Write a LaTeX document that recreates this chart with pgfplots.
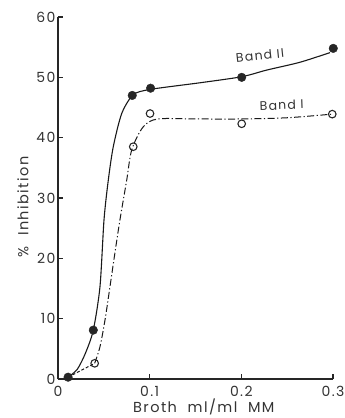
\documentclass[border=0pt]{standalone}
\usepackage{fontspec}
\setmainfont{Poppins}[LetterSpace=10]
\usepackage{pgfplots}
\pgfplotsset{compat=1.18}
\begin{document}
\begin{tikzpicture}
\begin{axis}[
  at={(0,0)}, anchor=south west,
  scale only axis, width=275pt, height=362pt,
  xmin=0, xmax=0.3, ymin=0, ymax=60,
  axis lines*=left,
  axis line style={line width=1.2pt, black!85},
  tick align=inside,
  major tick length=5pt,
  tick style={line width=1.2pt, black!85},
  xtick={0,0.1,0.2,0.3},
  xticklabels={0,0.1,0.2,0.3},
  ytick={0,10,20,30,40,50,60},
  /pgf/number format/assume math mode=true,
  ticklabel style={font=\fontsize{14}{16}\selectfont, text=black!80},
  yticklabel style={xshift=1pt},
  xticklabel style={yshift=-4pt},
  clip=false,
  xlabel={Broth\ \ ml/ml\ \ MM},
  ylabel={\%\ \ Inhibition},
  xlabel style={at={(axis description cs:0.53,0)}, anchor=center, yshift=-28pt, font=\fontsize{14.5}{16}\selectfont, text=black!80},
  ylabel style={at={(axis description cs:0,0.475)}, anchor=center, yshift=35pt, font=\fontsize{14.5}{16}\selectfont, text=black!80},
]
% Band II fitted curve
\addplot[black!90, line width=1.1pt, smooth, tension=0.45] coordinates {
 (0.011,0.3) (0.021,1.6) (0.030,4.3) (0.0385,8.1) (0.0458,15.3) (0.0502,26.4)
 (0.0549,33) (0.0603,38.5) (0.0695,44) (0.082,47.1) (0.1007,48.0) (0.155,49.1)
 (0.2004,50.1) (0.2276,51.2) (0.264,52.5) (0.2967,54.1)
};
% Band I fitted curve (base dashed)
\addplot[black!90, line width=1pt, dash pattern=on 3pt off 2pt] coordinates {
 (0.011,0.3) (0.040,2.6)
};
\addplot[black!90, line width=1pt, dash pattern=on 7pt off 2.5pt on 1.2pt off 2.5pt, smooth, tension=0.5] coordinates {
 (0.040,2.6) (0.0458,5.35) (0.0513,9.8) (0.0567,15.3) (0.062,20.8) (0.0676,26.4)
 (0.075,33) (0.0805,38) (0.093,41.8) (0.109,43.1) (0.15,43.1) (0.2,43.1)
 (0.25,43.3) (0.299,43.9)
};
% Band I data (open circles)
\addplot[only marks, mark=o, mark size=3.8pt, mark options={line width=1.1pt, fill=white, draw=black!85}] coordinates {
 (0.040,2.6) (0.0821,38.5) (0.1004,44.0) (0.2004,42.3) (0.2992,43.9)
};
% Band II data (filled circles)
\addplot[only marks, mark=*, mark size=4.3pt, mark options={fill=black!85, draw=black!85}] coordinates {
 (0.011,0.3) (0.0385,8.1) (0.081,47.0) (0.101,48.2) (0.2004,50.0) (0.3003,54.8)
};
\node[font=\fontsize{12.5}{14}\selectfont, rotate=6, text=black!80] at (axis cs:0.2204,53.6) {Band II};
\node[font=\fontsize{12.5}{14}\selectfont, rotate=2, text=black!80] at (axis cs:0.244,45.4) {Band I};
\end{axis}
\pgfresetboundingbox
\path (-58pt,-39pt) rectangle (287pt,379pt);
\end{tikzpicture}
\end{document}
